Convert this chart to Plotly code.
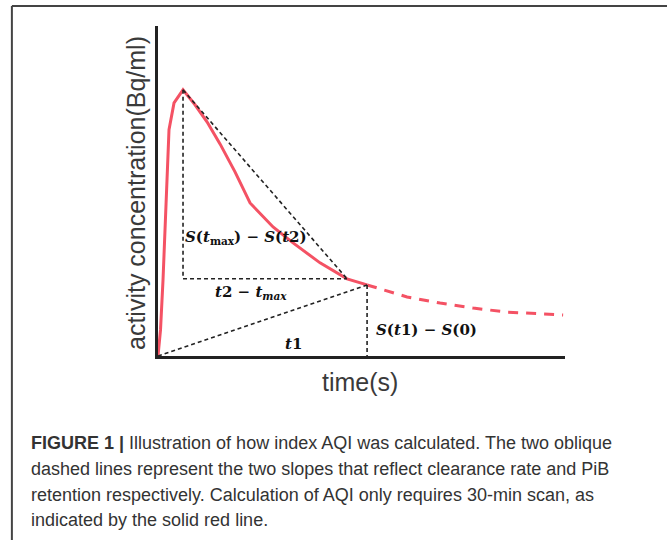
import plotly.graph_objects as go

# Time-activity curve: time in minutes, activity concentration in kBq/ml
rise_t = [0, 0.36, 0.72, 1.15, 1.58, 2.30, 3.59]
rise_c = [0, 0.98, 2.86, 5.86, 8.50, 9.51, 10.0]
decay_t = [3.59, 5.31, 7.03, 8.90, 11.05, 13.21, 16.51, 19.38, 23.25, 27.13, 30.0]
decay_c = [10.0, 9.44, 8.80, 7.97, 6.92, 5.75, 4.85, 4.25, 3.50, 2.90, 2.67]
tail_t = [30.0, 35.74, 40.48, 45.21, 50.09, 58.13]
tail_c = [2.67, 2.22, 1.99, 1.80, 1.65, 1.54]

# Key points used by the AQI slopes
t_max, s_max = 3.59, 10.0
t2, s_t2 = 27.13, 2.90
t1, s_t1 = 30.0, 2.67

x_range = [0, 58.4]
y_range = [0, 12.4]

RED = "rgb(244,82,100)"
INK = "#222222"
TXT = "#3a3a3a"

fig = go.Figure()

# solid part (30-min scan)
fig.add_trace(go.Scatter(x=rise_t + decay_t[1:], y=rise_c + decay_c[1:], mode="lines",
                         line=dict(color=RED, width=3), hoverinfo="skip"))
# dashed continuation
fig.add_trace(go.Scatter(x=tail_t, y=tail_c, mode="lines",
                         line=dict(color=RED, width=3, dash="10px,8px"), hoverinfo="skip"))

# construction lines
guides = [
    ([t_max, t2], [s_max, s_t2]),
    ([t_max, t_max], [s_max, s_t2]),
    ([t_max, t2], [s_t2, s_t2]),
    ([0, t1], [0, s_t1]),
    ([t1, t1], [s_t1, 0]),
]
for gx, gy in guides:
    fig.add_trace(go.Scatter(x=gx, y=gy, mode="lines",
                             line=dict(color=INK, width=1.6, dash="4px,3px"),
                             hoverinfo="skip"))

math_font = dict(family="DejaVu Serif, Liberation Serif, serif", size=15, color="#111111")
annotations = [
    dict(x=t_max, y=4.44, xanchor="left", yanchor="middle",
         text="<b><i>S</i>(<i>t</i><sub>max</sub>) − <i>S</i>(<i>t</i>2)</b>"),
    dict(x=13.4, y=2.37, xanchor="center", yanchor="middle",
         text="<b><i>t</i>2 − <i>t<sub>max</sub></i></b>"),
    dict(x=19.5, y=0.45, xanchor="center", yanchor="middle",
         text="<b><i>t</i>1</b>"),
    dict(x=t1, y=0.98, xanchor="left", yanchor="middle", xshift=7,
         text="<b><i>S</i>(<i>t</i>1) − <i>S</i>(0)</b>"),
]
for a in annotations:
    a.update(xref="x", yref="y", showarrow=False, font=math_font)
    fig.add_annotation(**a)

label_font = dict(family="Liberation Sans, Arial, sans-serif", size=25, color=TXT)
fig.add_annotation(xref="paper", yref="paper", x=0.496, y=-0.079, text="time(s)",
                   showarrow=False, xanchor="center", yanchor="middle", font=label_font)
fig.add_annotation(xref="paper", yref="paper", x=-0.054, y=0.494, textangle=-90,
                   text="activity concentration(Bq/ml)", showarrow=False,
                   xanchor="center", yanchor="middle", font=label_font)

caption_lines = [
    "<b>FIGURE 1 |</b> Illustration of how index AQI was calculated. The two oblique",
    "dashed lines represent the two slopes that reflect clearance rate and PiB",
    "retention respectively. Calculation of AQI only requires 30-min scan, as",
    "indicated by the solid red line.",
]
cap_y = [-0.264, -0.342, -0.420, -0.497]
cap_font = dict(family="Liberation Sans, Arial, sans-serif", size=18, color="#333333")
for line, yy in zip(caption_lines, cap_y):
    fig.add_annotation(xref="paper", yref="paper", x=-0.317, y=yy, text=line,
                       showarrow=False, xanchor="left", yanchor="middle", font=cap_font)

# outer frame (top and left edges)
frame = dict(color="#444444", width=2)
fig.add_shape(type="line", xref="paper", yref="paper", x0=-0.359, x1=1.4,
              y0=1.0606, y1=1.0606, line=frame)
fig.add_shape(type="line", xref="paper", yref="paper", x0=-0.359, x1=-0.359,
              y0=1.0606, y1=-0.7, line=frame)

axis_style = dict(showline=True, linewidth=3, linecolor=INK, showgrid=False,
                  zeroline=False, showticklabels=False, ticks="", fixedrange=True)
fig.update_xaxes(range=x_range, **axis_style)
fig.update_yaxes(range=y_range, **axis_style)

fig.update_layout(width=667, height=540, margin=dict(l=158, r=102, t=26, b=184),
                  plot_bgcolor="white", paper_bgcolor="white", showlegend=False)

fig.write_html("out.html")
